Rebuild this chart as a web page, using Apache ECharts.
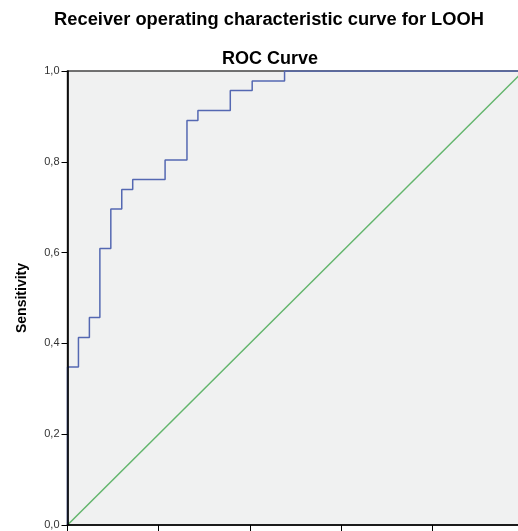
<!DOCTYPE html>
<html>
<head>
<meta charset="utf-8">
<script src="https://cdn.jsdelivr.net/npm/echarts@6/dist/echarts.min.js"></script>
<style>html,body{margin:0;padding:0;background:#fff;}#c{width:518px;height:531px;}</style>
</head>
<body>
<div id="c"></div>
<script>
const mainTitle = "Receiver operating characteristic curve for LOOH";
const subTitle = "ROC Curve";
const yName = "Sensitivity";
const yTicks = [0, 0.2, 0.4, 0.6, 0.8, 1.0];
// ROC corner points (1 - specificity, sensitivity)
const fpr = [0, 0, 0.024, 0.048, 0.071, 0.095, 0.119, 0.143, 0.214, 0.262, 0.286, 0.357, 0.405, 0.476, 1.0];
const tpr = [0, 0.348, 0.413, 0.457, 0.609, 0.696, 0.739, 0.761, 0.804, 0.891, 0.913, 0.957, 0.978, 1.0, 1.0];
const refX = [0, 1];
const refY = [0, 1];

const chart = echarts.init(document.getElementById('c'), null, {renderer: 'canvas'});
const fmt = v => v.toFixed(1).replace('.', ',');
chart.setOption({
  animation: false,
  backgroundColor: '#ffffff',
  title: [
    {text: mainTitle, left: 264, top: 6, textAlign: 'center',
     textStyle: {fontFamily: 'Liberation Sans, Arial', fontWeight: 'bold', fontSize: 18.3, color: '#000'}},
    {text: subTitle, left: 265, top: 45, textAlign: 'center',
     textStyle: {fontFamily: 'Liberation Sans, Arial', fontWeight: 'bold', fontSize: 18, color: '#000'}}
  ],
  grid: {left: 67.5, top: 71, width: 456, height: 454, outerBoundsMode: 'none', containLabel: false,
         show: true, backgroundColor: '#F0F1F1', borderColor: '#444', borderWidth: 1.5},
  xAxis: {
    type: 'value', min: 0, max: 1, interval: 0.2, z: 5,
    axisLine: {show: true, lineStyle: {color: '#000', width: 1.6}},
    axisTick: {show: true, length: 6, lineStyle: {color: '#000'}},
    axisLabel: {formatter: fmt, fontFamily: 'Liberation Sans, Arial', fontSize: 11, color: '#000', margin: 8},
    splitLine: {show: false}
  },
  yAxis: {
    type: 'value', min: 0, max: 1, interval: 0.2, z: 5,
    name: yName, nameLocation: 'middle', nameGap: 38,
    nameTextStyle: {fontFamily: 'Liberation Sans, Arial', fontWeight: 'bold', fontSize: 14, color: '#000'},
    axisLine: {show: true, lineStyle: {color: '#000', width: 1.6}},
    axisTick: {show: true, length: 6, lineStyle: {color: '#000'}},
    axisLabel: {formatter: fmt, fontFamily: 'Liberation Sans, Arial', fontSize: 11, color: '#333', margin: 8},
    splitLine: {show: false}
  },
  series: [
    {type: 'line', data: refX.map((x, i) => [x, refY[i]]), showSymbol: false,
     lineStyle: {color: '#62B56C', width: 1.5}},
    {type: 'line', step: 'end', data: fpr.map((x, i) => [x, tpr[i]]), showSymbol: false,
     lineStyle: {color: '#5468B2', width: 1.5}}
  ]
});
</script>
</body>
</html>
